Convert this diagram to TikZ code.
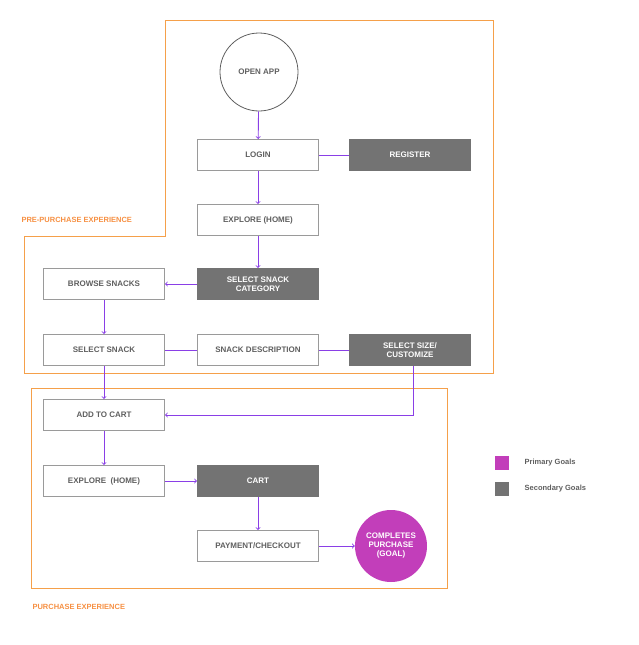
\documentclass[tikz,border=0pt]{standalone}
\usepackage{fontspec}
\setmainfont{Liberation Sans}
\usepackage{tikz}
\usetikzlibrary{positioning}
\definecolor{flow}{HTML}{8A3FE6}
\definecolor{boxline}{HTML}{9A9A9A}
\definecolor{darkbox}{HTML}{737373}
\definecolor{txt}{HTML}{5F5F5F}
\definecolor{goal}{HTML}{C23EBA}
\definecolor{zone}{HTML}{F5A04A}
\tikzset{
  stepbox/.style={draw=boxline, line width=1pt, fill=white, minimum width=121pt, minimum height=31pt,
    text=txt, font=\fontsize{8}{9}\selectfont\bfseries, align=center},
  altbox/.style={stepbox, fill=darkbox, draw=darkbox, text=white},
  flowline/.style={draw=flow, line width=0.9pt},
  flowarrow/.style={flowline, -to},
  zonelabel/.style={text=zone!90!red, font=\fontsize{7.5}{9}\selectfont\bfseries, anchor=west}
}
\begin{document}
\begin{tikzpicture}[x=1pt,y=-1pt]
    \useasboundingbox (0,0) rectangle (638,645);
    % experience zones
    \draw[zone, line width=1pt] (165,20) -- (493,20) -- (493,373) -- (24,373) -- (24,236) -- (165,236) -- cycle;
    \draw[zone, line width=1pt] (31,388) rectangle (447,588);
    \node[zonelabel] (prelbl) at (18,220) {PRE-PURCHASE EXPERIENCE};
    \node[zonelabel] (purlbl) at (29,607) {PURCHASE EXPERIENCE};
    % steps
    \node[circle, draw=txt, line width=0.8pt, minimum size=78pt, text=txt, font=\fontsize{8}{9}\selectfont\bfseries] (open) at (259,72) {OPEN APP};
    \node[stepbox] (login) at (258,155) {LOGIN};
    \node[altbox] (register) at (410,155) {REGISTER};
    \node[stepbox] (explore) at (258,220) {EXPLORE (HOME)};
    \node[altbox] (category) at (258,284) {SELECT SNACK\\CATEGORY};
    \node[stepbox] (browse) at (104,284) {BROWSE SNACKS};
    \node[stepbox] (select) at (104,350) {SELECT SNACK};
    \node[stepbox] (descr) at (258,350) {SNACK DESCRIPTION};
    \node[altbox] (size) at (410,350) {SELECT SIZE/\\CUSTOMIZE};
    \node[stepbox] (add) at (104,415) {ADD TO CART};
    \node[stepbox] (explore2) at (104,481) {EXPLORE~~(HOME)};
    \node[altbox] (cart) at (258,481) {CART};
    \node[stepbox] (pay) at (258,546) {PAYMENT/CHECKOUT};
    \node[circle, fill=goal, minimum size=72pt, text=white, font=\fontsize{8}{9}\selectfont\bfseries, align=center] (goal) at (391,546) {COMPLETES\\PURCHASE\\(GOAL)};
    \coordinate (bend) at (413,415);
    % connectors
    \draw[flowarrow] (open) -- (login);
    \draw[flowline] (login) -- (register);
    \draw[flowarrow] (login) -- (explore);
    \draw[flowarrow] (explore) -- (category);
    \draw[flowarrow] (category) -- (browse);
    \draw[flowarrow] (browse) -- (select);
    \draw[flowline] (select) -- (descr);
    \draw[flowline] (descr) -- (size);
    \draw[flowarrow] (select) -- (add);
    \draw[flowarrow] (size.south -| bend) -- (bend) -- (add);
    \draw[flowarrow] (add) -- (explore2);
    \draw[flowarrow] (explore2) -- (cart);
    \draw[flowarrow] (cart) -- (pay);
    \draw[flowarrow] (pay) -- (goal);
    % legend
    \node[fill=goal, minimum size=14pt, inner sep=0pt] (keyprim) at (502,463) {};
    \node[fill=darkbox, minimum size=14pt, inner sep=0pt] (keysec) at (502,489) {};
    \node[right=12pt of keyprim, text=txt, font=\fontsize{7.5}{9}\selectfont\bfseries] (primtxt) {Primary Goals};
    \node[right=12pt of keysec, text=txt, font=\fontsize{7.5}{9}\selectfont\bfseries] (sectxt) {Secondary Goals};
\end{tikzpicture}
\end{document}
